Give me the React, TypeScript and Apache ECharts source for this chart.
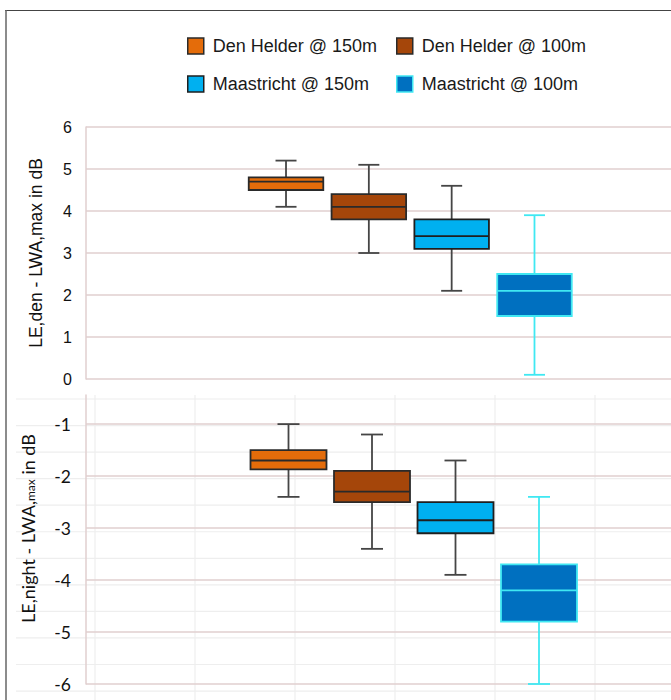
import React, { useEffect, useRef } from 'react';
import * as echarts from 'echarts';

// ---- data ----
const categories = ['Den Helder @ 150m', 'Den Helder @ 100m', 'Maastricht @ 150m', 'Maastricht @ 100m'];
// [min, Q1, median, Q3, max]
const denHelder150Den = [4.1, 4.5, 4.7, 4.8, 5.2];
const denHelder100Den = [3.0, 3.8, 4.1, 4.4, 5.1];
const maastricht150Den = [2.1, 3.1, 3.4, 3.8, 4.6];
const maastricht100Den = [0.1, 1.5, 2.1, 2.5, 3.9];
const denHelder150Night = [-2.4, -1.87, -1.7, -1.5, -1.0];
const denHelder100Night = [-3.4, -2.5, -2.3, -1.9, -1.2];
const maastricht150Night = [-3.9, -3.1, -2.85, -2.5, -1.7];
const maastricht100Night = [-6.0, -4.8, -4.2, -3.7, -2.4];
const denTicks = [0, 1, 2, 3, 4, 5, 6];
const nightTicks = [-6, -5, -4, -3, -2, -1];
const nightAxisMax = -0.44;

const denValues = [denHelder150Den, denHelder100Den, maastricht150Den, maastricht100Den];
const nightValues = [denHelder150Night, denHelder100Night, maastricht150Night, maastricht100Night];

// ---- styles ----
const seriesStyles = [
  { fill: '#E46C0A', border: '#2a2a2a', whisker: '#454545' },
  { fill: '#A5460A', border: '#2a2a2a', whisker: '#454545' },
  { fill: '#00B0F0', border: '#1f1f1f', whisker: '#454545' },
  { fill: '#0070C0', border: '#40E8F2', whisker: '#40E8F2' },
];
const pink = '#e0cfcf';
const lightGrid = '#eeeeee';

function makeRender(boxRatio: number, capW: number, s: any) {
  return (params: any, api: any) => {
    const x = api.value(0);
    const c = api.coord([x, api.value(1)]);
    const cx = c[0];
    const yMin = c[1];
    const yQ1 = api.coord([x, api.value(2)])[1];
    const yMed = api.coord([x, api.value(3)])[1];
    const yQ3 = api.coord([x, api.value(4)])[1];
    const yMax = api.coord([x, api.value(5)])[1];
    const bw = api.size([1, 0])[0] * boxRatio;
    const ls = { stroke: s.whisker, lineWidth: 1.8 };
    return {
      type: 'group',
      children: [
        { type: 'line', shape: { x1: cx, y1: yMax, x2: cx, y2: yQ3 }, style: ls },
        { type: 'line', shape: { x1: cx, y1: yQ1, x2: cx, y2: yMin }, style: ls },
        { type: 'line', shape: { x1: cx - capW / 2, y1: yMax, x2: cx + capW / 2, y2: yMax }, style: ls },
        { type: 'line', shape: { x1: cx - capW / 2, y1: yMin, x2: cx + capW / 2, y2: yMin }, style: ls },
        {
          type: 'rect',
          shape: { x: cx - bw / 2, y: yQ3, width: bw, height: yQ1 - yQ3 },
          style: { fill: s.fill, stroke: s.border, lineWidth: 1.8 },
        },
        {
          type: 'line',
          shape: { x1: cx - bw / 2, y1: yMed, x2: cx + bw / 2, y2: yMed },
          style: { stroke: s.border, lineWidth: 1.8 },
        },
      ],
    };
  };
}

export default function App() {
  const ref = useRef<HTMLDivElement>(null);
  useEffect(() => {
    const chart = echarts.init(ref.current!, null, { renderer: 'svg' });

    const graphics: any[] = [];
    // spreadsheet cell grid behind lower chart
    for (let k = 0; k < 6; k++) {
      const gx = 95 + 100 * k;
      graphics.push({ type: 'line', z: -10, silent: true, shape: { x1: gx, y1: 395, x2: gx, y2: 700 }, style: { stroke: lightGrid, lineWidth: 1.2 } });
    }
    for (let k = 0; k < 12; k++) {
      const gy = 399 + 26.55 * k;
      graphics.push({ type: 'line', z: -10, silent: true, shape: { x1: 16, y1: gy, x2: 671, y2: gy }, style: { stroke: lightGrid, lineWidth: 1.2 } });
    }
    // outer frame
    graphics.push({ type: 'line', silent: true, shape: { x1: 5, y1: 10.5, x2: 671, y2: 10.5 }, style: { stroke: '#444', lineWidth: 1.2 } });
    graphics.push({ type: 'line', silent: true, shape: { x1: 6, y1: 10, x2: 6, y2: 700 }, style: { stroke: '#666', lineWidth: 1.5 } });
    // axis names
    graphics.push({
      type: 'text', silent: true, x: 35.5, y: 253, rotation: Math.PI / 2,
      style: { text: 'LE,den - LWA,max in dB', font: '17.5px "Liberation Sans", Arial, sans-serif', fill: '#111', textAlign: 'center', textVerticalAlign: 'middle' },
    });
    graphics.push({
      type: 'text', silent: true, x: 28, y: 528.5, rotation: Math.PI / 2,
      style: {
        text: '{a|LE,night - LWA,}{b|max}{a| in dB}',
        textAlign: 'center', textVerticalAlign: 'middle',
        rich: {
          a: { fontFamily: 'Lato, sans-serif', fontSize: 18, fill: '#111' },
          b: { fontFamily: 'Lato, sans-serif', fontSize: 12, fill: '#111', padding: [5, 0, 0, 0] },
        },
      },
    });

    const legendPos = [
      [182, 32], [391, 32], [182, 70], [391, 70],
    ];
    const legends = categories.map((name, i) => ({
      left: legendPos[i][0], top: legendPos[i][1],
      itemWidth: 16, itemHeight: 16, icon: 'rect', selectedMode: false,
      data: [{ name, itemStyle: { color: seriesStyles[i].fill, borderColor: seriesStyles[i].border, borderWidth: 1.5 } }],
      textStyle: { fontFamily: '"Liberation Sans", Arial, sans-serif', fontSize: 18, color: '#1a1a1a', padding: [0, 0, 0, 4] },
    }));

    const denSeries = denValues.map((v, i) => ({
      type: 'custom', name: categories[i], xAxisIndex: 1, yAxisIndex: 1,
      itemStyle: { color: seriesStyles[i].fill, borderColor: seriesStyles[i].border },
      encode: { x: 0, y: [1, 2, 3, 4, 5] },
      renderItem: makeRender(0.9, 21, seriesStyles[i]),
      data: [[i, ...v]],
    }));
    const nightSeries = nightValues.map((v, i) => ({
      type: 'custom', name: categories[i], xAxisIndex: 3, yAxisIndex: 3,
      itemStyle: { color: seriesStyles[i].fill, borderColor: seriesStyles[i].border },
      encode: { x: 0, y: [1, 2, 3, 4, 5] },
      renderItem: makeRender(0.91, 22, seriesStyles[i]),
      data: [[i, ...v]],
    }));

    const option: any = {
      animation: false,
      backgroundColor: '#fff',
      graphic: graphics,
      legend: legends,
      grid: [
        { left: 86, top: 127, width: 585, height: 252 },
        { left: 244.6, top: 127, width: 331.3, height: 252 },
        { left: 86, top: 395, width: 585, height: 289 },
        { left: 246.75, top: 395, width: 334, height: 289 },
      ],
      xAxis: [
        { type: 'value', gridIndex: 0, show: false, min: 0, max: 1 },
        { type: 'category', gridIndex: 1, show: false, data: categories },
        { type: 'value', gridIndex: 2, show: false, min: 0, max: 1 },
        { type: 'category', gridIndex: 3, show: false, data: categories },
      ],
      yAxis: [
        {
          type: 'value', gridIndex: 0, min: denTicks[0], max: denTicks[denTicks.length - 1], interval: 1,
          axisLine: { show: true, onZero: false, lineStyle: { color: pink, width: 1.5 } },
          axisTick: { show: false },
          axisLabel: { margin: 14, fontFamily: '"Liberation Sans", Arial, sans-serif', fontSize: 16, color: '#111' },
          splitLine: { show: true, lineStyle: { color: pink, width: 1.5 } },
        },
        { type: 'value', gridIndex: 1, min: denTicks[0], max: denTicks[denTicks.length - 1], show: false, splitLine: { show: false } },
        {
          type: 'value', gridIndex: 2, min: nightTicks[0], max: nightAxisMax, interval: 1,
          axisLine: { show: true, onZero: false, lineStyle: { color: pink, width: 1.5 } },
          axisTick: { show: false },
          axisLabel: {
            margin: 15, fontFamily: 'Lato, sans-serif', fontSize: 17.5, color: '#111', showMaxLabel: false,
            formatter: (v: number) => (nightTicks.indexOf(Math.round(v)) >= 0 && Math.abs(v - Math.round(v)) < 1e-6 ? String(Math.round(v)) : ''),
          },
          splitLine: { show: true, showMaxLine: false, lineStyle: { color: pink, width: 1.5 } },
        },
        { type: 'value', gridIndex: 3, min: nightTicks[0], max: nightAxisMax, show: false, splitLine: { show: false } },
      ],
      series: [...denSeries, ...nightSeries],
    };
    chart.setOption(option);
    return () => chart.dispose();
  }, []);
  return <div ref={ref} style={{ position: 'absolute', left: 0, top: 0, width: 671, height: 700, background: '#fff' }} />;
}
